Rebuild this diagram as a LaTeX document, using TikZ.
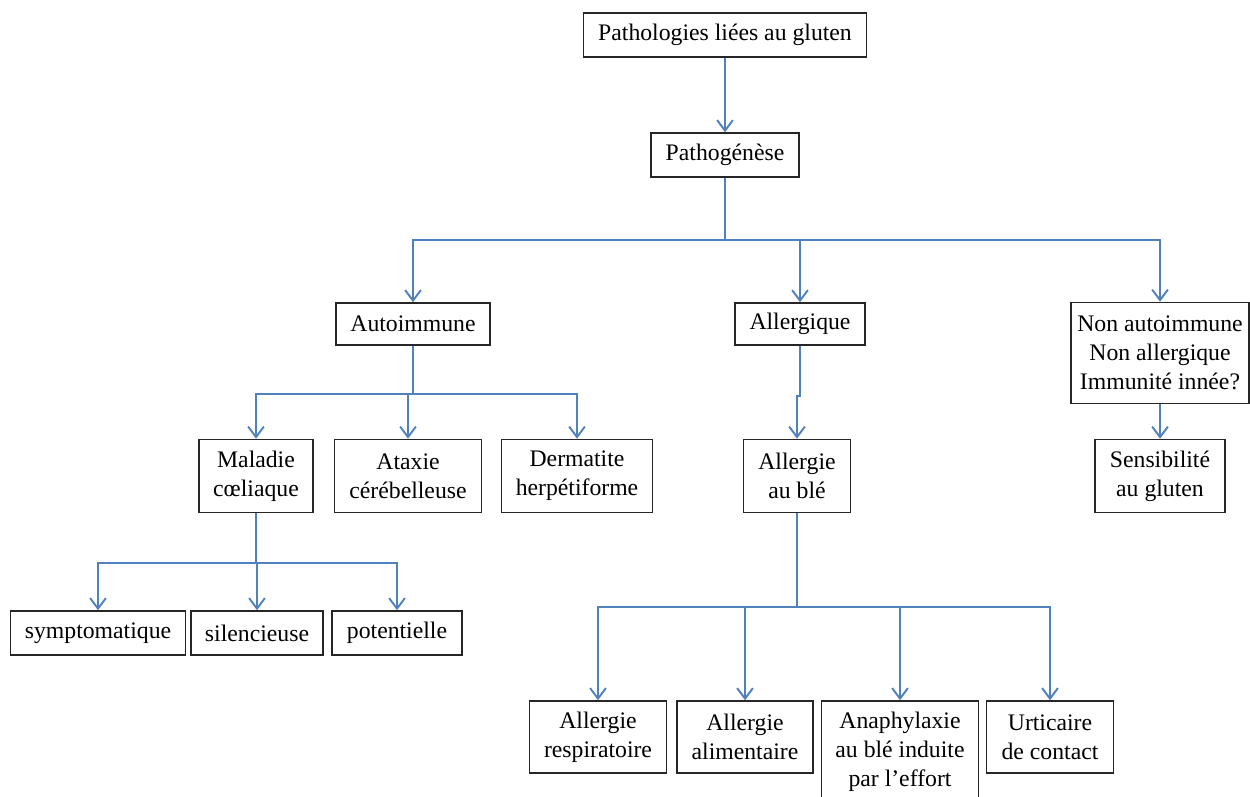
\documentclass[tikz,border=0pt]{standalone}
\usepackage{fontspec}
\setmainfont{Liberation Serif}
\usetikzlibrary{arrows.meta}
\definecolor{lienbleu}{RGB}{79,129,189}
\tikzset{
    boite/.style={draw=black!85, line width=0.9pt, align=center, inner sep=2pt,
        font=\fontsize{13.5}{16.5}\selectfont},
    lien/.style={draw=lienbleu, line width=1.1pt},
    fleche/.style={lien, -{Straight Barb[length=6pt, width=9pt, line width=1.1pt]}},
}
\begin{document}
\begin{tikzpicture}[x=0.02cm, y=-0.02cm]
    \clip (0,0) rectangle (1250,796);

    % niveau 1 et 2
    \node[boite, minimum width=5.66cm, minimum height=0.88cm] (patho) at (725,35) {Pathologies liées au gluten};
    \node[boite, minimum width=2.96cm, minimum height=0.88cm] (pathog) at (725,155) {Pathogénèse};

    % niveau 3
    \node[boite, minimum width=3.08cm, minimum height=0.84cm] (auto) at (413,324) {Autoimmune};
    \node[boite, minimum width=2.6cm, minimum height=0.84cm] (allerg) at (800,324) {Allergique};
    \node[boite, minimum width=3.56cm, minimum height=2.02cm] (nonauto) at (1160,353) {Non autoimmune\\Non allergique\\Immunité innée?};

    % niveau 4
    \node[boite, minimum width=2.28cm, minimum height=1.46cm] (maladie) at (256,476) {Maladie\\cœliaque};
    \node[boite, minimum width=2.94cm, minimum height=1.46cm] (ataxie) at (408,476) {Ataxie\\cérébelleuse};
    \node[boite, minimum width=3.02cm, minimum height=1.46cm] (derma) at (577,476) {Dermatite\\herpétiforme};
    \node[boite, minimum width=2.14cm, minimum height=1.46cm] (alleble) at (797,476) {Allergie\\au blé};
    \node[boite, minimum width=2.6cm, minimum height=1.46cm] (sensib) at (1160,476) {Sensibilité\\au gluten};

    % niveau 5
    \node[boite, minimum width=3.5cm, minimum height=0.88cm] (sympto) at (98,633) {symptomatique};
    \node[boite, minimum width=2.64cm, minimum height=0.88cm] (silenc) at (257,633) {silencieuse};
    \node[boite, minimum width=2.6cm, minimum height=0.88cm] (potent) at (397,633) {potentielle};
    \node[boite, minimum width=2.74cm, minimum height=1.44cm] (respi) at (598,737) {Allergie\\respiratoire};
    \node[boite, minimum width=2.72cm, minimum height=1.44cm] (alim) at (745,737) {Allergie\\alimentaire};
    \node[boite, minimum width=3.14cm, minimum height=2.04cm] (anaph) at (900,752) {Anaphylaxie\\au blé induite\\par l’effort};
    \node[boite, minimum width=2.54cm, minimum height=1.44cm] (urtic) at (1050,737) {Urticaire\\de contact};

    % liaisons
    \draw[fleche] (patho) -- (pathog);
    \draw[lien] (pathog.south) -- ++(0,62) coordinate (j1);
    \foreach \cible in {auto, allerg, nonauto}
        \draw[fleche] (j1) -| (\cible.north);

    \draw[lien] (auto.south) -- ++(0,48) coordinate (j2);
    \foreach \cible in {maladie, ataxie, derma}
        \draw[fleche] (j2) -| (\cible.north);

    \draw[fleche] (allerg.south) -- ++(0,50) -| (alleble.north);
    \draw[fleche] (nonauto.south) -- (sensib.north);

    \draw[lien] (maladie.south) -- ++(0,50) coordinate (j3);
    \foreach \cible in {sympto, silenc, potent}
        \draw[fleche] (j3) -| (\cible.north);

    \draw[lien] (alleble.south) -- ++(0,94) coordinate (j4);
    \foreach \cible in {respi, alim, anaph, urtic}
        \draw[fleche] (j4) -| (\cible.north);
\end{tikzpicture}
\end{document}
